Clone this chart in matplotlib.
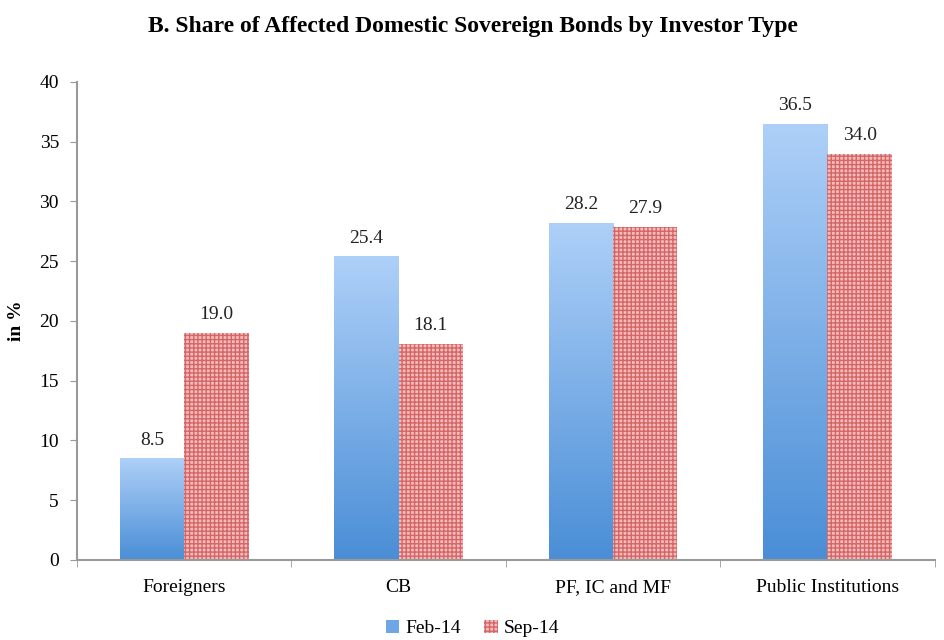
import numpy as np
import matplotlib
matplotlib.use("Agg")
import matplotlib.pyplot as plt
from matplotlib.colors import LinearSegmentedColormap
from matplotlib.patches import Patch

categories = ["Foreigners", "CB", "PF, IC and MF", "Public Institutions"]
feb14 = [8.5, 25.4, 28.2, 36.5]
sep14 = [19.0, 18.1, 27.9, 34.0]
series_names = ["Feb-14", "Sep-14"]
yticks = [0, 5, 10, 15, 20, 25, 30, 35, 40]

plt.rcParams['font.family'] = ['Liberation Serif', 'DejaVu Serif']
plt.rcParams['hatch.linewidth'] = 1.0

fig = plt.figure(figsize=(9.45, 6.4), dpi=100)
ax = fig.add_axes([0.0815, 0.125, 0.9075, 0.747])

x = np.arange(len(categories))
w = 0.3
cmap = LinearSegmentedColormap.from_list("bl", ["#4a8ed6", "#aed0f8"])
grad = np.linspace(0, 1, 256).reshape(-1, 1)

bars_b = ax.bar(x - w/2, feb14, w, color="none", edgecolor="none")
for b in bars_b:
    x0, y0 = b.get_x(), b.get_y()
    im = ax.imshow(grad, extent=[x0, x0 + b.get_width(), y0, y0 + b.get_height()],
                   origin="lower", cmap=cmap, aspect="auto", zorder=2)
    im.set_clip_path(b)

ax.bar(x + w/2, sep14, w, facecolor="#f2bcbc", edgecolor="#d66666", hatch="++++",
       linewidth=0, zorder=2)

for xi, v in zip(x - w/2, feb14):
    ax.text(xi, v + 0.8, f"{v:.1f}", ha="center", va="bottom", fontsize=14, color="#222222")
for xi, v in zip(x + w/2, sep14):
    ax.text(xi, v + 0.8, f"{v:.1f}", ha="center", va="bottom", fontsize=14, color="#222222")

ax.set_xlim(-0.5, 3.5)
ax.set_ylim(0, 40)
ax.set_yticks(yticks)
ax.set_yticklabels([str(t) for t in yticks], fontsize=14)
ax.set_xticks(x)
ax.set_xticklabels(categories, fontsize=14)
ax.tick_params(axis="x", length=0, pad=14)
ax.set_xticks(np.arange(-0.5, 4.0, 1.0), minor=True)
ax.tick_params(axis="x", which="minor", length=5, color="#999999", direction="out")
ax.tick_params(axis="y", length=5, color="#999999", pad=8)
for s in ["top", "right"]:
    ax.spines[s].set_visible(False)
for s in ["left", "bottom"]:
    ax.spines[s].set_color("#999999")
    ax.spines[s].set_linewidth(1.5)

ax.set_ylabel("in %", fontsize=14, fontweight="bold", labelpad=10)
fig.text(0.5, 0.958, "B. Share of Affected Domestic Sovereign Bonds by Investor Type",
         ha="center", va="center", fontsize=17, fontweight="bold")

handles = [Patch(facecolor="#6fa6e6", edgecolor="none"),
           Patch(facecolor="#f2bcbc", edgecolor="#d66666", hatch="++++", linewidth=0)]
fig.legend(handles, series_names, loc="center", bbox_to_anchor=(0.5, 0.018), ncol=2,
           frameon=False, fontsize=14, handlelength=0.7, handleheight=0.7,
           columnspacing=1.2, handletextpad=0.3)

fig.savefig("out.png", dpi=100)
